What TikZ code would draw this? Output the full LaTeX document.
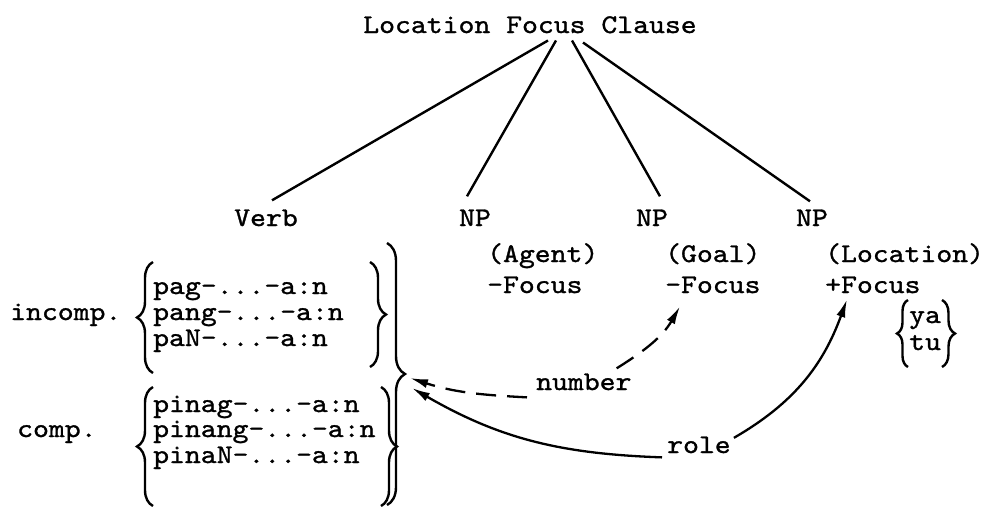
\documentclass[tikz,border=0pt]{standalone}
\usepackage{fontspec}
\newfontfamily\typew{lmmono10-regular.otf}[FakeBold=1.1, FakeStretch=1.12]
\usetikzlibrary{arrows.meta,decorations.pathreplacing}

\tikzset{
  tw/.style={inner sep=0pt, anchor=base west,
    font=\typew\fontsize{27}{26}\selectfont},
  branch/.style={line width=2.4pt},
  brc/.style={line width=2.4pt, decorate,
    decoration={brace, amplitude=16pt}},
  dep/.style={->, line width=2.3pt},
}

\begin{document}
\begin{tikzpicture}[x=1pt,y=-1pt,>={Latex[length=18pt,width=9pt]}]
\useasboundingbox (0,0) rectangle (985,507);

% the clause and its four parts
\node[tw,anchor=base] (lfc) at (530,33) {Location Focus Clause};
\node[tw,anchor=base] (verb) at (266,226) {Verb};
\node[tw,anchor=base] (np1) at (475,226) {NP};
\node[tw,anchor=base] (np2) at (652,226) {NP};
\node[tw,anchor=base] (np3) at (812,226) {NP};

\draw[branch] ([xshift=18,yshift=-7]lfc.south) -- ([xshift=6,yshift=9]verb.north);
\draw[branch] ([xshift=26,yshift=-7]lfc.south) -- ([xshift=-8,yshift=13]np1.north);
\draw[branch] ([xshift=42,yshift=-7]lfc.south) -- ([xshift=8,yshift=13]np2.north);
\draw[branch] ([xshift=53,yshift=-9]lfc.south) -- ([xshift=-2,yshift=8]np3.north);

% roles under the NPs
\node[tw] (agt) at (487,262) {(Agent)};
\node[tw] (afoc) at (487,293) {-Focus};
\node[tw] (goal) at (665,262) {(Goal)};
\node[tw] (gfoc) at (665,293) {-Focus};
\node[tw] (loc) at (825,262) {(Location)};
\node[tw] (lfoc) at (825,293) {+Focus};

% focus markers
\node[tw] (ya) at (909,323) {ya};
\node[tw] (tu) at (909,350) {tu};
\draw[brc,decoration={amplitude=11pt}] (908,367) -- (908,300);
\draw[brc,decoration={amplitude=13pt}] (942,300) -- (942,367);

% verb affixes
\node[tw] (inc) at (10,320) {incomp.};
\foreach \p/\y in {pag/294, pang/320, paN/346}
  \node[tw] (i\p) at (153,\y) {\p-...-a:n};
\node[tw] (cmp) at (17,437) {comp.};
\foreach \p/\y in {pinag/412, pinang/437, pinaN/463}
  \node[tw] (c\p) at (153,\y) {\p-...-a:n};

\draw[brc] (153,373) -- (153,262);
\draw[brc] (370,262) -- (370,367);
\draw[brc] (153,506) -- (153,387);
\draw[brc] (381,387) -- (381,506);
\draw[brc,decoration={amplitude=18pt}] (387,243) -- (387,505);
\coordinate (vtip) at (405,374);

% agreement
\node[tw] (number) at (536,390) {number};
\node[tw] (role) at (667,453) {role};

\draw[dep,dashed,dash pattern=on 20pt off 11pt]
  ([xshift=-9,yshift=-7]number.south west) to[out=177,in=-18] ([xshift=5,yshift=-4]vtip);
\draw[dep,dashed,dash pattern=on 20pt off 11pt]
  ([xshift=-15,yshift=5]number.north east) to[out=32,in=240] ([xshift=15,yshift=-13]gfoc.south west);
\draw[dep] ([xshift=-5,yshift=-4]role.south west) to[out=178,in=-30] ([xshift=7,yshift=-14]vtip);
\draw[dep] ([xshift=3,yshift=7]role.east) to[out=30,in=250] ([xshift=22,yshift=-6]lfoc.south west);

\end{tikzpicture}
\end{document}
